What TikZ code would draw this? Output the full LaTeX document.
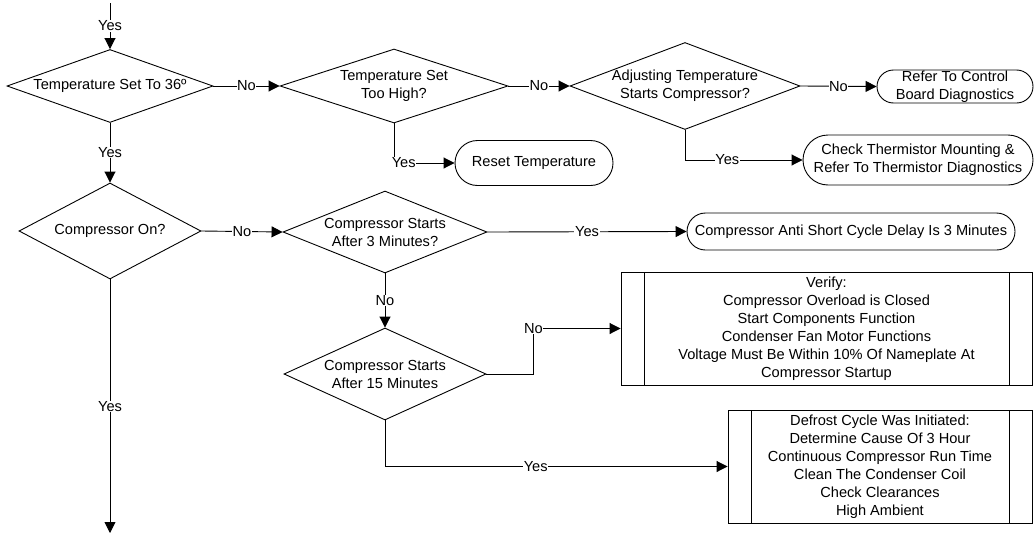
\documentclass[tikz,border=0pt]{standalone}
\usepackage{fontspec}
\setmainfont{Liberation Sans}
\usetikzlibrary{shapes.geometric,arrows.meta}
\begin{document}
\begin{tikzpicture}[
  x=1pt, y=-1pt,
  line width=0.9pt,
  every node/.style={align=center, font=\fontsize{14.6}{18}\selectfont},
  dec/.style={diamond, draw, aspect=2.7, inner sep=-4pt},
  term/.style={draw, inner sep=0pt, minimum height=#1, rounded corners=#1/2},
  proc/.style={draw, inner sep=0pt, path picture={
    \draw ([xshift=23pt]path picture bounding box.north west) -- ([xshift=23pt]path picture bounding box.south west)
          ([xshift=-23pt]path picture bounding box.north east) -- ([xshift=-23pt]path picture bounding box.south east);}},
  lbl/.style={fill=white, inner sep=0.6pt},
  arr/.style={-{Triangle[length=11pt,width=11pt]}}
]
\useasboundingbox (0,0) rectangle (1036,541);
\coordinate (start) at (110,3);
\coordinate (stop) at (110,533);
\node[dec, minimum width=206, minimum height=73] (d1) at (110,86) {Temperature Set To 36º};
\node[dec, minimum width=228, minimum height=74] (d2) at (394,86) {Temperature Set\\Too High?};
\node[dec, minimum width=230, minimum height=87] (d3) at (685,86) {Adjusting Temperature\\Starts Compressor?};
\node[term=33pt, minimum width=156] (ctrl) at (955,86.5) {Refer To Control\\Board Diagnostics};
\node[term=45pt, minimum width=158] (reset) at (534,163) {Reset Temperature};
\node[term=50pt, minimum width=230] (therm) at (918,160) {Check Thermistor Mounting \&\\Refer To Thermistor Diagnostics};
\node[dec, minimum width=182, minimum height=96] (d4) at (110,231) {Compressor On?};
\node[dec, minimum width=204, minimum height=82] (d5) at (385,232) {Compressor Starts\\After 3 Minutes?};
\node[term=37pt, minimum width=328] (delay) at (851,231.5) {Compressor Anti Short Cycle Delay Is 3 Minutes};
\node[dec, minimum width=202, minimum height=92] (d6) at (385,374) {Compressor Starts\\After 15 Minutes};
\node[proc, minimum width=411, minimum height=113] (verify) at (826.5,328.5) {Verify:\\Compressor Overload is Closed\\Start Components Function\\Condenser Fan Motor Functions\\Voltage Must Be Within 10\% Of Nameplate At\\Compressor Startup};
\node[proc, minimum width=304, minimum height=113] (defrost) at (880,466.5) {Defrost Cycle Was Initiated:\\Determine Cause Of 3 Hour\\Continuous Compressor Run Time\\Clean The Condenser Coil\\Check Clearances\\High Ambient};
\draw[arr] (start) -- node[lbl] {Yes} (d1.north);
\draw[arr] (d1.east) -- node[lbl] {No} (d2.west);
\draw[arr] (d2.east) -- node[lbl] {No} (d3.west);
\draw[arr] (d3.east) -- node[lbl] {No} (ctrl.west);
\draw[arr] (d2.south) |- node[lbl, pos=0.58] {Yes} (reset.west);
\draw[arr] (d3.south) |- node[lbl, pos=0.68] {Yes} (therm.west);
\draw[arr] (d1.south) -- node[lbl] {Yes} (d4.north);
\draw[arr] (d4.east) -- node[lbl] {No} (d5.west);
\draw[arr] (d5.east) -- node[lbl] {Yes} (delay.west);
\draw[arr] (d5.south) -- node[lbl] {No} (d6.north);
\draw[arr] (d6.east) -- ++(47,0) |- node[lbl, pos=0.5] {No} (verify.west);
\draw[arr] (d6.south) |- node[lbl, pos=0.72] {Yes} (defrost.west);
\draw[arr] (d4.south) -- node[lbl] {Yes} (stop);
\end{tikzpicture}
\end{document}
